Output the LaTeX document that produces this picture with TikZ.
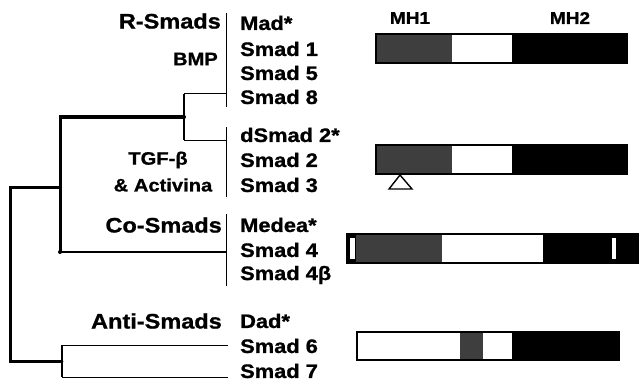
\documentclass[tikz,border=0pt]{standalone}
\usepackage{fontspec}
\setmainfont{Liberation Sans}[BoldFeatures={FakeStretch=1.12,FakeBold=1}]
\usetikzlibrary{positioning,calc}
\definecolor{DomainGray}{RGB}{62,62,62}

\begin{document}
\begin{tikzpicture}[x=1pt,y=-1pt,
  gene/.style={anchor=west,inner sep=0pt,font=\fontsize{19.5}{20}\selectfont\bfseries},
  family/.style={anchor=east,inner sep=0pt,font=\fontsize{21}{22}\selectfont\bfseries},
  ligand/.style={inner sep=0pt,font=\fontsize{18}{19}\selectfont\bfseries,align=center},
  mhlabel/.style={inner sep=0pt,font=\fontsize{17}{18}\selectfont\bfseries},
  twig/.style={line width=1pt},
  trunk/.style={line width=3pt,line cap=round},
  bar/.style={draw,line width=1.6pt}]
  \useasboundingbox (0,0) rectangle (639,385);

  % gene names
  \node[gene] (mad)    at (240,23)  {Mad*};
  \node[gene] (smad1)  at (240,49)  {Smad 1};
  \node[gene] (smad5)  at (240,73)  {Smad 5};
  \node[gene] (smad8)  at (240,97)  {Smad 8};
  \node[gene] (dsmad2) at (240,135) {dSmad 2*};
  \node[gene] (smad2)  at (240,160) {Smad 2};
  \node[gene] (smad3)  at (240,185) {Smad 3};
  \node[gene] (medea)  at (240,225) {Medea*};
  \node[gene] (smad4)  at (240,250) {Smad 4};
  \node[gene] (smad4b) at (240,275) {Smad 4β};
  \node[gene] (dad)    at (240,321) {Dad*};
  \node[gene] (smad6)  at (240,346) {Smad 6};
  \node[gene] (smad7)  at (240,371) {Smad 7};

  % family labels
  \node[family] (rsmads)    at (221,21)  {R-Smads};
  \node[ligand,anchor=east] (bmp) at (218,59) {BMP};
  \node[ligand] (tgf)       at (158,160) {TGF-β};
  \node[ligand] (activina)  at (163,185) {\& Activina};
  \node[family] (cosmads)   at (222,225) {Co-Smads};
  \node[family] (antismads) at (222,321) {Anti-Smads};

  % brackets
  \draw[twig] (226,13) coordinate (rtop) -- (226,107) coordinate (rbot);
  \draw[twig] (226,127) coordinate (ttop) -- (226,197) coordinate (tbot);
  \draw[twig] (226,214) coordinate (ctop) -- (226,286) coordinate (cbot);

  % tree
  \coordinate (root) at (10,187);
  \coordinate (rootlow) at (10,361);
  \coordinate (core) at (60,187);
  \coordinate (anti) at (62,361);
  \coordinate (rsplit) at (60,117);
  \coordinate (cosplit) at (60,252);
  \coordinate (rknot) at (184,117);
  \draw[trunk] (core) -- (root) -- (rootlow) -- (anti);
  \draw[trunk] (rknot) -- (rsplit) -- (cosplit);
  \draw[twig,line width=1.8pt] (cosplit) -- (cosplit -| ctop);
  \fill (rknot) circle (2pt);
  \fill (cosplit) circle (2pt);
  \draw[twig,line width=1.6pt] (184,94) coordinate (bmpend) -- (184,140) coordinate (tgfend);
  \draw[twig] (bmpend) -- (bmpend -| rtop);
  \draw[twig] (tgfend) -- (tgfend -| ttop);
  \draw[twig,line width=1.6pt] (62,345) coordinate (s6end) -- (62,377) coordinate (s7end);
  \draw[twig] (s6end) -- (228,345);
  \draw[twig] (s7end) -- (228,377);

  % domains
  \node[mhlabel] (mh1) at (410,18) {MH1};
  \node[mhlabel] (mh2) at (570,18) {MH2};

  % Smad 1
  \fill[DomainGray] (376,34) rectangle (452,63);
  \fill[black] (512,34) rectangle (627,63);
  \draw[bar] (376,34) rectangle (627,63);
  % Smad 2
  \fill[DomainGray] (376,145) rectangle (452,174);
  \fill[black] (512,145) rectangle (627,174);
  \draw[bar] (376,145) rectangle (627,174);
  \draw[line width=1.4pt,line join=miter] (400,175) -- (412,189) -- (389,189) -- cycle;
  % Smad 4
  \fill[black] (347,234) rectangle (356,263);
  \fill[DomainGray] (356,234) rectangle (442,263);
  \fill[black] (543,234) rectangle (639,263);
  \fill[white] (350,238) rectangle (355,259);
  \fill[white] (612,238) rectangle (616,259);
  \draw[bar] (347,234) rectangle (639,263);
  % Smad 6
  \fill[DomainGray] (460,332) rectangle (483,360);
  \fill[black] (512,332) rectangle (619,360);
  \draw[bar] (357,332) rectangle (619,360);
\end{tikzpicture}
\end{document}
